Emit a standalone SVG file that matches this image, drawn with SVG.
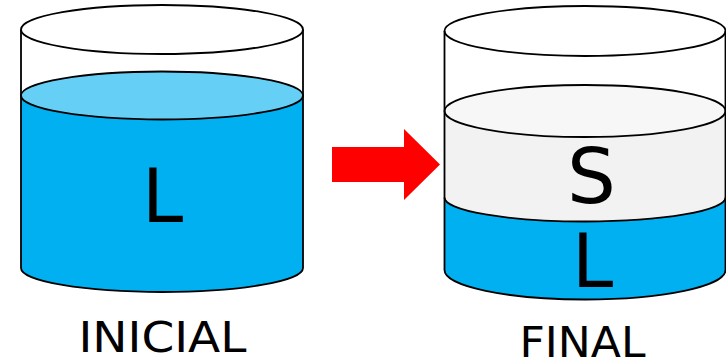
<svg xmlns="http://www.w3.org/2000/svg" width="726" height="360" viewBox="0 0 726 360">
<style>
.o{stroke:#000;stroke-width:1.800;fill:none}
.t{font-family:"DejaVu Sans",Verdana,sans-serif;fill:#000}
.big{font-size:74px}
.cap{font-size:42.500px}
.liquid{fill:#00b0f0}
</style>
<rect width="726" height="360" fill="#fff"/>
<g id="cylinder-initial">
<path class="liquid" d="M21 95.500V268A141 24 0 0 0 303 268V95.500Z"/>
<ellipse cx="162" cy="95.500" rx="141" ry="24" fill="#66cff6" stroke="#000" stroke-width="1.800"/>
<path class="o" d="M21 29.500V268A141 24 0 0 0 303 268V29.500"/>
<ellipse class="o" cx="162" cy="29.500" rx="141" ry="24.500"/>
<text class="t big" x="162.500" y="222" text-anchor="middle">L</text>
<text class="t cap" x="162.500" y="352" text-anchor="middle" textLength="168" lengthAdjust="spacingAndGlyphs">INICIAL</text>
</g>
<g id="cylinder-final">
<path class="liquid" d="M444.500 196V270A140.500 29.500 0 0 0 725.500 270V196Z"/>
<path d="M444.500 111V197.500A140.500 24 0 0 0 725.500 197.500V111Z" fill="#f2f2f2"/>
<path class="o" d="M444.500 197.500A140.500 24 0 0 0 725.500 197.500"/>
<ellipse cx="585" cy="111" rx="140.500" ry="26" fill="#f7f7f7" stroke="#000" stroke-width="1.800"/>
<path class="o" d="M444.500 31V270A140.500 29.500 0 0 0 725.500 270V31"/>
<ellipse class="o" cx="585" cy="31" rx="140.500" ry="25"/>
<text class="t" font-size="77" x="591.500" y="203" text-anchor="middle">S</text>
<text class="t big" x="592.500" y="287" text-anchor="middle">L</text>
<text class="t cap" x="582.500" y="357" text-anchor="middle" textLength="126" lengthAdjust="spacingAndGlyphs">FINAL</text>
</g>
<g id="connectors">
<polygon points="332,147 404,147 404,129 440,164.500 404,200 404,182 332,182" fill="#f00"/>
</g>
</svg>
